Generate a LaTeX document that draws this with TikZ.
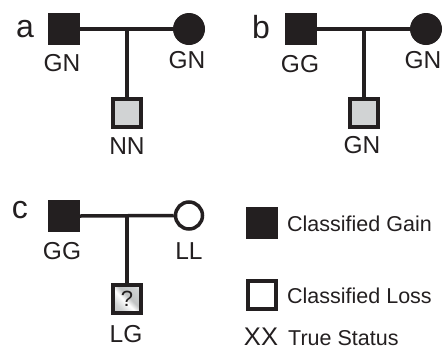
\documentclass[tikz,border=0pt]{standalone}
\usepackage{fontspec}
\setmainfont{Liberation Sans}
\definecolor{ink}{HTML}{231F20}
\definecolor{pale}{HTML}{D1D3D4}
\pgfdeclarehorizontalshading{qshade}{100bp}{color(0bp)=(pale!60!gray); color(30bp)=(pale); color(45bp)=(white); color(55bp)=(pale!80!gray); color(75bp)=(pale); color(90bp)=(white); color(100bp)=(pale)}
\begin{document}
\begin{tikzpicture}[x=1pt,y=-1pt,
  male/.style={rectangle, fill=ink, draw=ink, line width=1pt, minimum size=31pt, inner sep=0pt},
  female/.style={circle, fill=ink, draw=ink, line width=1pt, minimum size=31pt, inner sep=0pt},
  child/.style={rectangle, fill=pale, draw=ink, line width=4pt, minimum size=28pt, inner sep=0pt},
  lossf/.style={circle, fill=white, draw=ink, line width=3.5pt, minimum size=27pt, inner sep=0pt},
  link/.style={draw=ink, line width=3.5pt},
  geno/.style={anchor=base, text=ink, font=\fontsize{24.5}{28}\selectfont, inner sep=0pt},
  panel/.style={anchor=base, text=ink, font=\fontsize{32}{36}\selectfont, inner sep=0pt},
  legend/.style={anchor=base west, text=ink, font=\fontsize{21.5}{25}\selectfont, inner sep=0pt}]
\useasboundingbox (0,0) rectangle (445,349);

% ---- family a ----
\node[panel] (la) at (25,37) {a};
\node[male] (a1) at (64,29) {};
\node[female] (a2) at (189,29) {};
\node[child] (a3) at (127,112.5) {};
\coordinate (aj) at (a3.north |- a1.east);
\draw[link] (a1.east) -- (a2.west);
\draw[link] (aj) -- (a3.north);
\node[geno] (ga1) at (62,71) {GN};
\node[geno] (ga2) at (187,68) {GN};
\node[geno] (ga3) at (127,154) {NN};

% ---- family b ----
\node[panel] (lb) at (261,38) {b};
\node[male] (b1) at (301,29) {};
\node[female] (b2) at (426,29) {};
\node[child] (b3) at (364,112.5) {};
\coordinate (bj) at (b3.north |- b1.east);
\draw[link] (b1.east) -- (b2.west);
\draw[link] (bj) -- (b3.north);
\node[geno] (gb1) at (300,72) {GG};
\node[geno] (gb2) at (423,68) {GN};
\node[geno] (gb3) at (362,153) {GN};

% ---- family c ----
\node[panel] (lc) at (20,218) {c};
\node[male] (c1) at (64,216) {};
\node[lossf] (c2) at (189,215.5) {};
\node[child, shading=qshade, shading angle=45] (c3) at (127,299) {};
\node[text=ink, font=\fontsize{22}{24}\selectfont, inner sep=0pt] (q) at (c3.center) {?};
\coordinate (cj) at (c3.north |- c1.east);
\draw[link] (c1.east) -- (c2.west);
\draw[link] (cj) -- (c3.north);
\node[geno] (gc1) at (62,259) {GG};
\node[geno] (gc2) at (189,259) {LL};
\node[geno] (gc3) at (126,342) {LG};

% ---- legend ----
\node[male] (kg) at (262,222.5) {};
\node[legend] (tg) at (287,231) {Classified Gain};
\node[rectangle, fill=white, draw=ink, line width=4pt, minimum size=28pt, inner sep=0pt] (kl) at (262,295) {};
\node[legend] (tl) at (287,303) {Classified Loss};
\node[anchor=base, text=ink, font=\fontsize{25.5}{28}\selectfont, inner sep=0pt] (kx) at (261,345) {XX};
\node[legend] (tx) at (288,345) {True Status};
\end{tikzpicture}
\end{document}
